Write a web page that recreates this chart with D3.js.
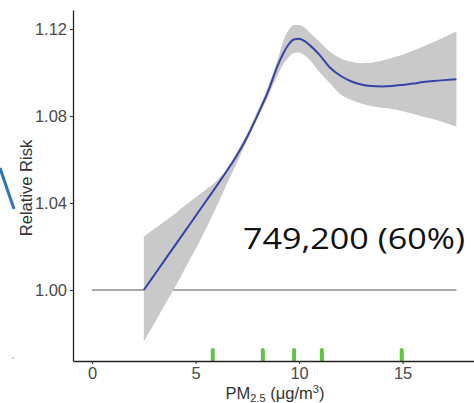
<!DOCTYPE html>
<html>
<head>
<meta charset="utf-8">
<script src="https://cdn.jsdelivr.net/npm/d3@7"></script>
<style>
  html, body { margin: 0; padding: 0; background: #fff; }
  svg { display: block; }
</style>
</head>
<body>
<svg id="chart" width="474" height="403"></svg>
<script>
// ---- data ----
const pm = [2.5, 3, 3.5, 4, 4.5, 5, 5.5, 6, 6.5, 7, 7.5, 8, 8.5, 9, 9.25, 9.5, 9.75, 10, 10.25, 10.5, 11, 11.5, 12, 12.5, 13, 13.5, 14, 14.5, 15, 15.5, 16, 16.5, 17, 17.6];
const rr = [1.000, 1.0068, 1.0136, 1.0204, 1.0272, 1.0340, 1.0408, 1.0476, 1.0546, 1.0620, 1.0705, 1.0805, 1.0912, 1.1040, 1.1090, 1.1130, 1.1152, 1.1155, 1.1145, 1.1127, 1.1080, 1.1022, 1.0985, 1.0960, 1.0945, 1.0938, 1.0936, 1.0938, 1.0943, 1.0949, 1.0956, 1.0961, 1.0965, 1.0969];
const rrUpper = [1.0245, 1.0280, 1.0315, 1.0350, 1.0390, 1.0425, 1.0462, 1.0500, 1.0555, 1.0635, 1.0722, 1.0825, 1.0935, 1.1070, 1.1150, 1.1195, 1.1218, 1.1218, 1.1208, 1.1185, 1.1140, 1.1096, 1.1066, 1.1050, 1.1043, 1.1045, 1.1055, 1.1068, 1.1082, 1.1100, 1.1120, 1.1140, 1.1162, 1.1188];
const rrLower = [0.9763, 0.9845, 0.9930, 1.0012, 1.0100, 1.0188, 1.0280, 1.0380, 1.0485, 1.0585, 1.0690, 1.0790, 1.0890, 1.0995, 1.1040, 1.1070, 1.1090, 1.1092, 1.1080, 1.1060, 1.1000, 1.0950, 1.0900, 1.0875, 1.0858, 1.0845, 1.0838, 1.0832, 1.0822, 1.0810, 1.0797, 1.0785, 1.0770, 1.0751];
const rugValues = [5.83, 8.25, 9.76, 11.1, 14.96];
const xTicks = [0, 5, 10, 15];
const yTicks = [1.00, 1.04, 1.08, 1.12];
const refValue = 1.00;
const refRange = [0, 17.6];
const annotation = "749,200 (60%)";
const yTitle = "Relative Risk";

// ---- scales ----
const svg = d3.select("#chart");
const x = d3.scaleLinear().domain([-0.92, 18.45]).range([73, 474]);
const y = d3.scaleLinear().domain([0.96736, 1.12874]).range([361, 10]);

const rows = pm.map((v, i) => ({x: v, y: rr[i], lo: rrLower[i], hi: rrUpper[i]}));

// reference line
svg.append("line")
  .attr("x1", x(refRange[0])).attr("x2", x(refRange[1]))
  .attr("y1", y(refValue)).attr("y2", y(refValue))
  .attr("stroke", "#8a8a8a").attr("stroke-width", 1.4);

// confidence band
svg.append("path")
  .datum(rows)
  .attr("fill", "#c9c9c9")
  .attr("d", d3.area().x(d => x(d.x)).y0(d => y(d.lo)).y1(d => y(d.hi)).curve(d3.curveMonotoneX));

// curve
svg.append("path")
  .datum(rows)
  .attr("fill", "none")
  .attr("stroke", "#3443a6")
  .attr("stroke-width", 2)
  .attr("d", d3.line().x(d => x(d.x)).y(d => y(d.y)).curve(d3.curveMonotoneX));

// rug
svg.append("g").selectAll("rect").data(rugValues).join("rect")
  .attr("x", d => x(d) - 2).attr("width", 4)
  .attr("y", 348).attr("height", 14).attr("rx", 2)
  .attr("fill", "#62c146");

// axes
const yAxis = svg.append("g").attr("transform", "translate(73,0)")
  .call(d3.axisLeft(y).tickValues(yTicks).tickFormat(d3.format(".2f")).tickSize(3).tickSizeOuter(0).tickPadding(3));
const xAxis = svg.append("g").attr("transform", "translate(0,361)")
  .call(d3.axisBottom(x).tickValues(xTicks).tickFormat(d3.format("d")).tickSize(3).tickSizeOuter(0).tickPadding(3));
[yAxis, xAxis].forEach(g => {
  g.select(".domain").attr("stroke", "#222").attr("stroke-width", 1.3);
  g.selectAll(".tick line").attr("stroke", "#333").attr("stroke-width", 1.1);
  g.selectAll(".tick text").attr("fill", "#4a4a4a")
    .style("font-family", "'Liberation Sans', Arial, sans-serif").style("font-size", "16.5px");
});

// axis titles
svg.append("text")
  .attr("transform", "translate(31.5,188) rotate(-90)")
  .attr("text-anchor", "middle")
  .attr("fill", "#333")
  .style("font-family", "'Liberation Sans', Arial, sans-serif").style("font-size", "16.5px")
  .text(yTitle);

const xt = svg.append("text")
  .attr("x", 275).attr("y", 398.5)
  .attr("text-anchor", "middle")
  .attr("fill", "#333")
  .style("font-family", "'Liberation Sans', Arial, sans-serif").style("font-size", "16.5px");
xt.append("tspan").text("PM");
xt.append("tspan").attr("dy", 3.5).style("font-size", "11px").text("2.5");
xt.append("tspan").attr("dy", -3.5).text(" (μg/m");
xt.append("tspan").attr("dy", -6).style("font-size", "11px").text("3");
xt.append("tspan").attr("dy", 6).text(")");

// annotation
svg.append("text")
  .attr("x", 243).attr("y", 249)
  .attr("textLength", 222).attr("lengthAdjust", "spacingAndGlyphs")
  .attr("fill", "#111")
  .style("font-family", "'Open Sans', sans-serif").style("font-size", "29px")
  .text(annotation);

// decorative callout stroke at left edge
svg.append("line")
  .attr("x1", 0).attr("y1", 168).attr("x2", 14).attr("y2", 209)
  .attr("stroke", "#2e75b6").attr("stroke-width", 3);
svg.append("circle").attr("cx", 13).attr("cy", 358).attr("r", 0.8).attr("fill", "#999");
</script>
</body>
</html>
